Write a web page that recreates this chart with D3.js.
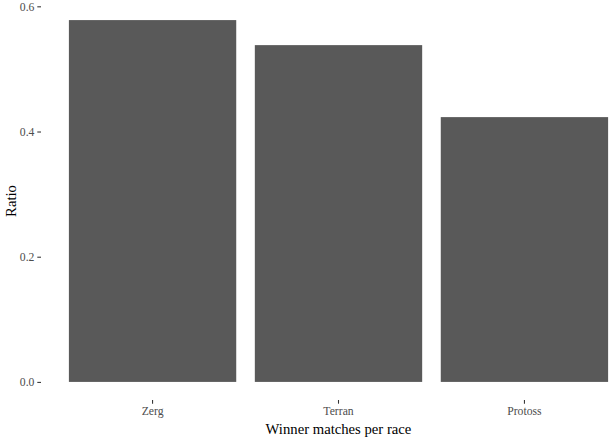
<!DOCTYPE html>
<html>
<head>
<meta charset="utf-8">
<script src="https://cdn.jsdelivr.net/npm/d3@7"></script>
<style>
  body { margin: 0; background: #fff; }
  svg { display: block; }
</style>
</head>
<body>
<div id="chart-area"></div>
<script>
const races = ["Zerg", "Terran", "Protoss"];
const ratios = [0.578, 0.538, 0.423];
const yTicks = [0.0, 0.2, 0.4, 0.6];

const canvasWidth = 609;
const canvasHeight = 439;

// panel edges (right edge runs past the window, as in the reference)
const panel = {left: 41, right: 636, top: 2, bottom: 400};

const svg = d3.select("#chart-area").append("svg")
  .attr("width", canvasWidth)
  .attr("height", canvasHeight)
  .style("font-family", "'Liberation Serif', 'Times New Roman', serif");

const maxVal = d3.max(ratios);
const pad = maxVal * 0.05;

const yScale = d3.scaleLinear()
  .domain([-pad, maxVal + pad])
  .range([panel.bottom, panel.top]);

const xScale = d3.scaleBand()
  .domain(races)
  .range([panel.left, panel.right])
  .paddingInner(0.1)
  .paddingOuter(0.15);

svg.selectAll("rect.bar")
  .data(races)
  .enter()
  .append("rect")
  .attr("class", "bar")
  .attr("x", d => xScale(d))
  .attr("width", xScale.bandwidth())
  .attr("y", (d, i) => yScale(ratios[i]))
  .attr("height", (d, i) => yScale(0) - yScale(ratios[i]))
  .attr("fill", "#595959");

const yAxis = d3.axisLeft(yScale)
  .tickValues(yTicks)
  .tickFormat(d3.format(".1f"))
  .tickSize(3.7)
  .tickSizeOuter(0)
  .tickPadding(2.9);

const yG = svg.append("g")
  .attr("transform", `translate(${panel.left},0)`)
  .call(yAxis);

const xAxis = d3.axisBottom(xScale)
  .tickSize(3.7)
  .tickSizeOuter(0)
  .tickPadding(2.9);

const xG = svg.append("g")
  .attr("transform", `translate(0,${panel.bottom})`)
  .call(xAxis);

[yG, xG].forEach(g => {
  g.select(".domain").remove();
  g.selectAll(".tick line").attr("stroke", "#333333").attr("stroke-width", 1.07);
  g.selectAll(".tick text")
    .attr("fill", "#4d4d4d")
    .style("font-size", "11.7px")
    .style("font-family", "'Liberation Serif', 'Times New Roman', serif");
});

svg.append("text")
  .attr("text-anchor", "middle")
  .attr("x", (panel.left + panel.right) / 2)
  .attr("y", 434)
  .attr("font-size", "14.7px")
  .attr("fill", "#000")
  .text("Winner matches per race");

svg.append("text")
  .attr("text-anchor", "middle")
  .attr("transform", `translate(16,${(panel.top + panel.bottom) / 2}) rotate(-90)`)
  .attr("font-size", "14.7px")
  .attr("fill", "#000")
  .text("Ratio");
</script>
</body>
</html>
